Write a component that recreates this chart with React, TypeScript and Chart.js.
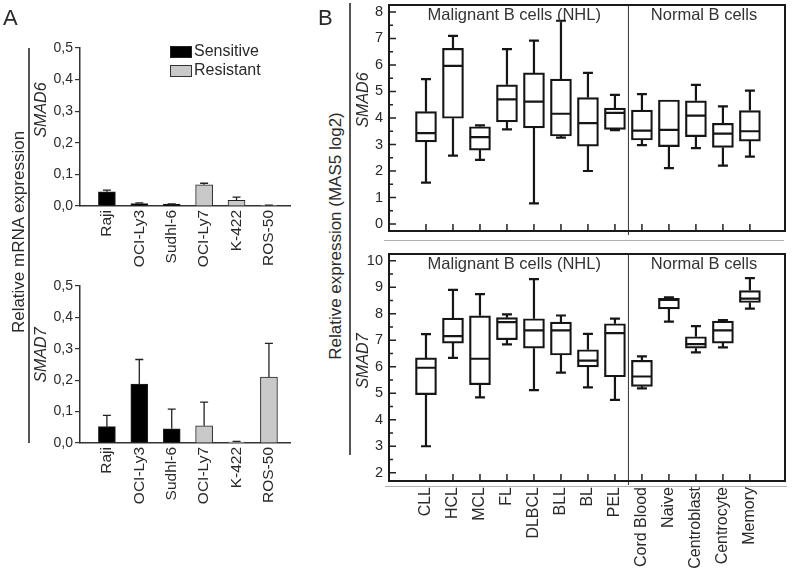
import React, { useEffect, useRef } from "react";
import { Chart, registerables } from "chart.js";
Chart.register(...registerables);

// ---------- Panel A data ----------
const cellLines = ["Raji", "OCI-Ly3", "Sudhl-6", "OCI-Ly7", "K-422", "ROS-50"];
const cellGroup = ["Sensitive", "Sensitive", "Sensitive", "Resistant", "Resistant", "Resistant"];
const smad6Mean = [0.045, 0.008, 0.006, 0.067, 0.018, 0.001];
const smad6Err = [0.005, 0.002, 0.001, 0.005, 0.010, 0.002];
const smad7Mean = [0.052, 0.188, 0.045, 0.055, 0.003, 0.21];
const smad7Err = [0.036, 0.078, 0.063, 0.075, 0.002, 0.107];
const aTicks = [0, 0.1, 0.2, 0.3, 0.4, 0.5];

// ---------- Panel B data ----------
const subsets = ["CLL", "HCL", "MCL", "FL", "DLBCL", "BLL", "BL", "PEL", "Cord Blood", "Naive", "Centroblast", "Centrocyte", "Memory"];
const s6Min = [1.56, 2.58, 2.42, 3.57, 0.78, 3.26, 2.0, 3.54, 2.98, 2.11, 2.86, 2.2, 2.54];
const s6Q1 = [3.1, 3.99, 2.79, 3.85, 3.63, 3.32, 2.94, 3.57, 3.17, 2.92, 3.3, 2.89, 3.13];
const s6Med = [3.43, 5.97, 3.28, 4.7, 4.62, 4.16, 3.81, 4.19, 3.52, 3.55, 4.09, 3.41, 3.5];
const s6Q3 = [4.24, 6.63, 3.67, 5.25, 5.7, 5.47, 4.77, 4.37, 4.3, 4.68, 4.65, 3.8, 4.28];
const s6Max = [5.47, 7.1, 3.72, 6.6, 6.92, 7.67, 5.7, 4.87, 4.9, 4.68, 5.25, 4.44, 5.03];

const s7Min = [3.0, 6.33, 4.84, 6.84, 5.12, 5.78, 5.22, 4.75, 5.18, 7.7, 6.54, 6.73, 8.19];
const s7Q1 = [4.95, 6.89, 5.32, 7.02, 6.7, 6.44, 5.99, 5.62, 5.26, 8.18, 6.7, 6.89, 8.42];
const s7Med = [5.96, 7.15, 6.3, 7.68, 7.37, 7.37, 6.23, 7.27, 5.63, 8.52, 6.85, 7.37, 8.57];
const s7Q3 = [6.33, 7.83, 7.92, 7.85, 7.81, 7.68, 6.64, 7.62, 6.24, 8.58, 7.13, 7.72, 8.87];
const s7Max = [7.23, 8.9, 8.74, 7.97, 9.3, 7.93, 7.24, 7.81, 6.39, 8.62, 7.53, 7.76, 9.34];

const s6Ticks = [0, 1, 2, 3, 4, 5, 6, 7, 8];
const s7Ticks = [2, 3, 4, 5, 6, 7, 8, 9, 10];

const FONT = "'Liberation Sans', Arial, sans-serif";
const TXT = "#2a2a2a";

const errorBarPlugin = {
  id: "errorBars",
  afterDatasetsDraw(chart: any, _a: any, opts: any) {
    const errs: number[] = opts.errors || [];
    const meta = chart.getDatasetMeta(0);
    const y = chart.scales.y;
    const ctx = chart.ctx;
    ctx.save();
    ctx.strokeStyle = "#222";
    ctx.lineWidth = 1.3;
    meta.data.forEach((el: any, i: number) => {
      const v = chart.data.datasets[0].data[i].y;
      const y0 = y.getPixelForValue(v);
      const y1 = y.getPixelForValue(v + errs[i]);
      ctx.beginPath();
      ctx.moveTo(el.x, y0);
      ctx.lineTo(el.x, y1);
      ctx.moveTo(el.x - 4, y1);
      ctx.lineTo(el.x + 4, y1);
      ctx.stroke();
    });
    ctx.restore();
  },
};

const boxPlugin = {
  id: "boxExtras",
  afterDatasetsDraw(chart: any, _a: any, opts: any) {
    const { ctx, chartArea } = chart;
    const x = chart.scales.x;
    const y = chart.scales.y;
    ctx.save();
    ctx.strokeStyle = "#151515";
    ctx.lineWidth = 2.2;
    const half = 10;
    const cap = 5;
    subsets.forEach((_s, i) => {
      const px = x.getPixelForValue(i);
      const pMin = y.getPixelForValue(opts.min[i]);
      const pQ1 = y.getPixelForValue(opts.q1[i]);
      const pMed = y.getPixelForValue(opts.med[i]);
      const pQ3 = y.getPixelForValue(opts.q3[i]);
      const pMax = y.getPixelForValue(opts.max[i]);
      ctx.beginPath();
      if (opts.max[i] > opts.q3[i]) {
        ctx.moveTo(px, pQ3);
        ctx.lineTo(px, pMax);
        ctx.moveTo(px - cap, pMax);
        ctx.lineTo(px + cap, pMax);
      }
      if (opts.min[i] < opts.q1[i]) {
        ctx.moveTo(px, pQ1);
        ctx.lineTo(px, pMin);
        ctx.moveTo(px - cap, pMin);
        ctx.lineTo(px + cap, pMin);
      }
      ctx.moveTo(px - half, pMed);
      ctx.lineTo(px + half, pMed);
      ctx.stroke();
    });
    // separator between malignant and normal
    const sx = x.getPixelForValue(7.5);
    ctx.lineWidth = 1;
    ctx.strokeStyle = "#333";
    ctx.beginPath();
    ctx.moveTo(sx, chartArea.top);
    ctx.lineTo(sx, chartArea.bottom + 4);
    ctx.stroke();
    // inward ticks
    ctx.lineWidth = 1.5;
    ctx.strokeStyle = "#222";
    ctx.beginPath();
    for (let v = Math.ceil(y.min * 2) / 2; v <= y.max; v += 0.5) {
      const py = y.getPixelForValue(v);
      const len = Math.abs(v - Math.round(v)) < 1e-6 ? 7 : 4;
      ctx.moveTo(chartArea.left, py);
      ctx.lineTo(chartArea.left + len, py);
    }
    subsets.forEach((_s, i) => {
      const px = x.getPixelForValue(i);
      ctx.moveTo(px, chartArea.bottom);
      ctx.lineTo(px, chartArea.bottom - 7);
    });
    ctx.stroke();
    // frame
    ctx.lineWidth = 2;
    ctx.strokeStyle = "#1a1a1a";
    ctx.strokeRect(chartArea.left, chartArea.top, chartArea.right - chartArea.left, chartArea.bottom - chartArea.top);
    // group headers
    ctx.fillStyle = "#333";
    ctx.font = `16.5px ${FONT}`;
    ctx.textAlign = "center";
    ctx.textBaseline = "middle";
    ctx.fillText("Malignant B cells (NHL)", x.getPixelForValue(3.27), chartArea.top + 10);
    ctx.fillText("Normal B cells", x.getPixelForValue(10.3), chartArea.top + 10);
    ctx.restore();
  },
};

function barConfig(values: number[], errs: number[], topPad: number, xHeight: number) {
  return {
    type: "bar",
    data: {
      datasets: [
        {
          label: "Relative mRNA expression",
          data: values.map((v, i) => ({ x: i, y: v })),
          backgroundColor: cellGroup.map((g) => (g === "Sensitive" ? "#000000" : "#c9c9c9")),
          borderColor: "#222",
          borderWidth: 1,
          barThickness: 17,
        },
      ],
    },
    options: {
      responsive: false,
      animation: false,
      layout: { padding: { top: topPad, left: 0, right: 10, bottom: 0 } },
      plugins: { legend: { display: false }, tooltip: { enabled: false }, errorBars: { errors: errs } },
      scales: {
        x: {
          type: "linear",
          offset: false,
          min: -0.83,
          max: 5.65,
          afterBuildTicks: (s: any) => {
            s.ticks = cellLines.map((_c, i) => ({ value: i }));
          },
          afterFit: (s: any) => {
            s.height = xHeight;
          },
          ticks: {
            callback: (v: number) => cellLines[v],
            minRotation: 90,
            maxRotation: 90,
            autoSkip: false,
            padding: 4,
            color: TXT,
            font: { family: FONT, size: 15.5 },
          },
          grid: { display: false, drawTicks: false, offset: false },
          border: { display: true, color: "#333", width: 1.5 },
        },
        y: {
          min: 0,
          max: 0.5,
          afterBuildTicks: (s: any) => {
            s.ticks = aTicks.map((v) => ({ value: v }));
          },
          afterFit: (s: any) => {
            s.width = 80;
          },
          ticks: {
            callback: (v: number) => v.toFixed(1).replace(".", ","),
            padding: 2,
            color: TXT,
            font: { family: FONT, size: 14 },
          },
          grid: { drawOnChartArea: false, drawTicks: true, tickLength: 5, color: "#333", lineWidth: 1.2 },
          border: { display: true, color: "#333", width: 1.5 },
        },
      },
    },
    plugins: [errorBarPlugin],
  };
}

function boxConfig(
  stats: { min: number[]; q1: number[]; med: number[]; q3: number[]; max: number[] },
  yMin: number,
  yMax: number,
  ticks: number[],
  topPad: number,
  xHeight: number,
  showX: boolean
) {
  return {
    type: "bar",
    data: {
      datasets: [
        {
          label: "Relative expression (MAS5 log2)",
          data: subsets.map((_s, i) => ({ x: i, y: [stats.q1[i], stats.q3[i]] })),
          backgroundColor: "#ffffff",
          borderColor: "#151515",
          borderWidth: 2.2,
          borderSkipped: false,
          barThickness: 21,
        },
      ],
    },
    options: {
      responsive: false,
      animation: false,
      layout: { padding: { top: topPad, left: 0, right: 7, bottom: 0 } },
      plugins: { legend: { display: false }, tooltip: { enabled: false }, boxExtras: stats },
      scales: {
        x: {
          type: "linear",
          offset: false,
          min: -1.37,
          max: 13.3,
          afterBuildTicks: (s: any) => {
            s.ticks = subsets.map((_c, i) => ({ value: i }));
          },
          afterFit: (s: any) => {
            s.height = xHeight;
          },
          ticks: {
            display: showX,
            callback: (v: number) => subsets[v],
            minRotation: 90,
            maxRotation: 90,
            autoSkip: false,
            padding: 6,
            color: TXT,
            font: { family: FONT, size: 16 },
          },
          grid: { display: false, drawTicks: false, offset: false },
          border: { display: false },
        },
        y: {
          min: yMin,
          max: yMax,
          afterBuildTicks: (s: any) => {
            s.ticks = ticks.map((v) => ({ value: v }));
          },
          afterFit: (s: any) => {
            s.width = 39;
          },
          ticks: { padding: 6, color: TXT, font: { family: FONT, size: 14.5 } },
          grid: { display: false, drawTicks: false },
          border: { display: false },
        },
      },
    },
    plugins: [boxPlugin],
  };
}

function ChartBox({ left, top, width, height, make }: any) {
  const ref = useRef<HTMLCanvasElement>(null);
  useEffect(() => {
    const c = new Chart(ref.current as HTMLCanvasElement, make());
    return () => c.destroy();
  }, []);
  return <canvas ref={ref} width={width} height={height} style={{ position: "absolute", left, top, width, height }} />;
}

function VText({ x, y, size, children, italic }: any) {
  return (
    <div
      style={{
        position: "absolute",
        left: x,
        top: y,
        transform: "translate(-50%, -50%) rotate(-90deg)",
        whiteSpace: "nowrap",
        fontFamily: FONT,
        fontSize: size,
        fontStyle: italic ? "italic" : "normal",
        color: TXT,
        lineHeight: 1,
      }}
    >
      {children}
    </div>
  );
}

export default function App() {
  const s6 = { min: s6Min, q1: s6Q1, med: s6Med, q3: s6Q3, max: s6Max };
  const s7 = { min: s7Min, q1: s7Q1, med: s7Med, q3: s7Q3, max: s7Max };
  return (
    <div style={{ position: "absolute", left: 0, top: 0, width: 792, height: 573, background: "#fff", overflow: "hidden" }}>
      {/* Panel A */}
      <ChartBox left={0} top={0} width={300} height={275} make={() => barConfig(smad6Mean, smad6Err, 48, 69)} />
      <ChartBox left={0} top={255} width={300} height={318} make={() => barConfig(smad7Mean, smad7Err, 31, 130)} />
      {/* Panel B */}
      <ChartBox left={350} top={-20} width={442} height={281} make={() => boxConfig(s6, -0.264, 8.264, s6Ticks, 25, 30, false)} />
      <ChartBox left={350} top={225} width={442} height={348} make={() => boxConfig(s7, 1.69, 10.25, s7Ticks, 29, 92, true)} />

      <div style={{ position: "absolute", left: 3, top: 5, fontFamily: FONT, fontSize: 22, color: TXT }}>A</div>
      <div style={{ position: "absolute", left: 318, top: 5, fontFamily: FONT, fontSize: 22, color: TXT }}>B</div>

      <VText x={18} y={232} size={17}>Relative mRNA expression</VText>
      <div style={{ position: "absolute", left: 28, top: 48, width: 1.5, height: 395, background: "#555" }} />
      <VText x={41} y={110} size={16} italic>SMAD6</VText>
      <VText x={41} y={355} size={16} italic>SMAD7</VText>

      <VText x={335} y={236} size={17}>Relative expression (MAS5 log2)</VText>
      <div style={{ position: "absolute", left: 349, top: 3, width: 1.5, height: 452, background: "#555" }} />
      <VText x={363} y={100} size={16} italic>SMAD6</VText>
      <VText x={363} y={361} size={16} italic>SMAD7</VText>

      <div style={{ position: "absolute", left: 384, top: 240, width: 400, height: 1, background: "#b0b0b0" }} />
      <div style={{ position: "absolute", left: 385, top: 486, width: 402, height: 1, background: "#b0b0b0" }} />

      {/* Legend */}
      <div style={{ position: "absolute", left: 170, top: 46, width: 20, height: 10, background: "#000", border: "1px solid #222" }} />
      <div style={{ position: "absolute", left: 194, top: 42, fontFamily: FONT, fontSize: 16, color: TXT, lineHeight: "18px" }}>Sensitive</div>
      <div style={{ position: "absolute", left: 170, top: 65, width: 20, height: 10, background: "#c9c9c9", border: "1px solid #333" }} />
      <div style={{ position: "absolute", left: 194, top: 61, fontFamily: FONT, fontSize: 16, color: TXT, lineHeight: "18px" }}>Resistant</div>
    </div>
  );
}
